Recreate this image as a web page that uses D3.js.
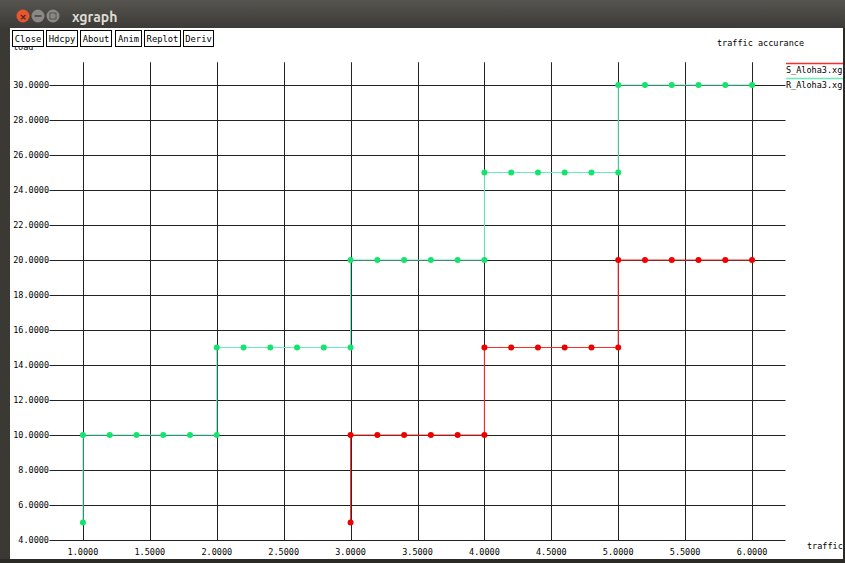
<!DOCTYPE html>
<html><head><meta charset="utf-8">
<script src="https://cdn.jsdelivr.net/npm/d3@7"></script>
<style>
body{margin:0;background:#2b2a27;}
svg{display:block;}
</style></head>
<body>
<svg id="c" width="845" height="563"></svg>
<script>
// ---- data ----
const xTicks = [1, 1.5, 2, 2.5, 3, 3.5, 4, 4.5, 5, 5.5, 6];
const yTicks = [4, 6, 8, 10, 12, 14, 16, 18, 20, 22, 24, 26, 28, 30];
const sAlohaX = [3, 3, 3.2, 3.4, 3.6, 3.8, 4, 4, 4.2, 4.4, 4.6, 4.8, 5, 5, 5.2, 5.4, 5.6, 5.8, 6];
const sAlohaY = [5, 10, 10, 10, 10, 10, 10, 15, 15, 15, 15, 15, 15, 20, 20, 20, 20, 20, 20];
const rAlohaX = [1, 1, 1.2, 1.4, 1.6, 1.8, 2, 2, 2.2, 2.4, 2.6, 2.8, 3, 3, 3.2, 3.4, 3.6, 3.8, 4, 4, 4.2, 4.4, 4.6, 4.8, 5, 5, 5.2, 5.4, 5.6, 5.8, 6];
const rAlohaY = [5, 10, 10, 10, 10, 10, 10, 15, 15, 15, 15, 15, 15, 20, 20, 20, 20, 20, 20, 25, 25, 25, 25, 25, 25, 30, 30, 30, 30, 30, 30];
const seriesNames = ["S_Aloha3.xg", "R_Aloha3.xg"];
const buttons = ["Close", "Hdcpy", "About", "Anim", "Replot", "Deriv"];

const svg = d3.select("#c");
const mono = "'DejaVu Sans Mono', 'Liberation Mono', monospace";
const fs = 8.5;

// window frame
svg.append("rect").attr("x",0).attr("y",0).attr("width",845).attr("height",563).attr("fill","#3a3934");
const tg = svg.append("linearGradient").attr("id","tb").attr("x1",0).attr("x2",0).attr("y1",0).attr("y2",1);
tg.append("stop").attr("offset","0").attr("stop-color","#55544f");
tg.append("stop").attr("offset","1").attr("stop-color","#3c3b37");
svg.append("rect").attr("x",0).attr("y",0).attr("width",845).attr("height",28).attr("fill","url(#tb)");
svg.append("circle").attr("cx",23).attr("cy",16).attr("r",6.5).attr("fill","#e9552f");
svg.append("text").attr("x",23).attr("y",19.5).attr("text-anchor","middle").attr("font-size",9).attr("font-weight","bold").attr("fill","#3a2a20").attr("font-family","DejaVu Sans").text("×");
svg.append("circle").attr("cx",38).attr("cy",16).attr("r",6.5).attr("fill","#8a8985");
svg.append("rect").attr("x",34.5).attr("y",15).attr("width",7).attr("height",2).attr("fill","#55544f");
svg.append("circle").attr("cx",53).attr("cy",16).attr("r",6.5).attr("fill","#8a8985");
svg.append("rect").attr("x",50).attr("y",13).attr("width",6).attr("height",6).attr("fill","none").attr("stroke","#55544f").attr("stroke-width",1);
svg.append("text").attr("x",72).attr("y",22).attr("font-size",14).attr("font-weight","bold").attr("fill","#dfdbd2").attr("font-family","Ubuntu, 'DejaVu Sans', sans-serif").text("xgraph");

// client area
svg.append("rect").attr("x",10).attr("y",28).attr("width",833).attr("height",531).attr("fill","#ffffff");

// scales
const x = d3.scaleLinear().domain([0.75, 6.25]).range([49.5, 785.5]);
const y = d3.scaleLinear().domain([4, 30]).range([540, 85]);
const yTop = y(31.3);

const grid = svg.append("g");
xTicks.forEach(t=>{
  grid.append("line").attr("x1",Math.round(x(t))+0.5).attr("x2",Math.round(x(t))+0.5).attr("y1",yTop).attr("y2",y(4)+0.5)
    .attr("stroke","#222").attr("stroke-width",1);
});
yTicks.forEach(t=>{
  grid.append("line").attr("x1",x(0.75)).attr("x2",x(6.25)).attr("y1",Math.round(y(t))+0.5).attr("y2",Math.round(y(t))+0.5)
    .attr("stroke","#222").attr("stroke-width",1);
});

// axis labels (load drawn before buttons; partially hidden like reference)
svg.append("text").attr("x",13).attr("y",50).attr("font-family",mono).attr("font-size",fs).attr("fill","#000").text("load");

// buttons
const bxs = [12.5, 46.5, 80.5, 115.5, 144.5, 183.5];
const bw = [31, 31, 31, 26, 36, 30];
buttons.forEach((b,i)=>{
  svg.append("rect").attr("x",bxs[i]).attr("y",30.5).attr("width",bw[i]).attr("height",16).attr("fill","#fff").attr("stroke","#000").attr("stroke-width",1);
  svg.append("text").attr("x",bxs[i]+bw[i]/2).attr("y",42).attr("text-anchor","middle").attr("font-family",mono).attr("font-size",fs+0.3).attr("fill","#000").text(b);
});

// tick labels
const fmt = d3.format(",.4f");
yTicks.forEach(t=>{
  svg.append("text").attr("x",49).attr("y",y(t)+3).attr("text-anchor","end").attr("font-family",mono).attr("font-size",fs).attr("fill","#000").text(fmt(t));
});
xTicks.forEach(t=>{
  svg.append("text").attr("x",x(t)).attr("y",555).attr("text-anchor","middle").attr("font-family",mono).attr("font-size",fs).attr("fill","#000").text(fmt(t));
});
svg.append("text").attr("x",807).attr("y",549).attr("font-family",mono).attr("font-size",fs).attr("fill","#000").text("traffic");
svg.append("text").attr("x",717).attr("y",46).attr("font-family",mono).attr("font-size",fs).attr("fill","#000").text("traffic accurance");

// series
const series = [
  {name: seriesNames[0], xs: sAlohaX, ys: sAlohaY, line: "#ff2a2a", pt: "#ee0000"},
  {name: seriesNames[1], xs: rAlohaX, ys: rAlohaY, line: "#66eebb", pt: "#14e46e"}
];
const lineGen = d3.line().x(d=>x(d[0])).y(d=>y(d[1]));
series.forEach((s,si)=>{
  const pts = s.xs.map((v,i)=>[v, s.ys[i]]);
  svg.append("path").attr("d", lineGen(pts)).attr("fill","none").attr("stroke",s.line).attr("stroke-width",1.1);
  svg.selectAll(null).data(pts).enter().append("circle")
    .attr("cx",d=>x(d[0])).attr("cy",d=>y(d[1])).attr("r",3).attr("fill",s.pt);
  // legend
  const ly = 63.5 + si*15;
  svg.append("line").attr("x1",786).attr("x2",843).attr("y1",ly).attr("y2",ly).attr("stroke",s.line).attr("stroke-width",1.5);
  svg.append("text").attr("x",786).attr("y",ly+9.5).attr("font-family",mono).attr("font-size",fs).attr("fill","#000").text(s.name);
});

// borders
svg.append("rect").attr("x",0).attr("y",559).attr("width",845).attr("height",4).attr("fill","#2b2a27");
svg.append("rect").attr("x",843).attr("y",28).attr("width",2).attr("height",535).attr("fill","#2b2a27");
</script>
</body></html>
